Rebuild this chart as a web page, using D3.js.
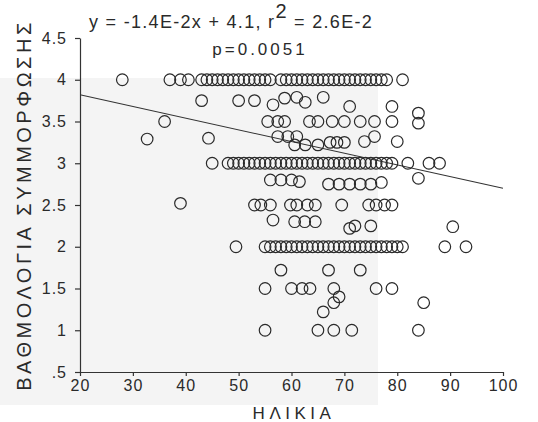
<!DOCTYPE html>
<html>
<head>
<meta charset="utf-8">
<script src="https://cdn.jsdelivr.net/npm/d3@7"></script>
<style>
  body { margin: 0; background: #fff; }
  text { font-family: "Liberation Sans", Arial, sans-serif; fill: #2a2a2a; }
</style>
</head>
<body>
<div id="chart"></div>
<script>
// ages of patients sitting on the three full rows
const agesAt4 = [28, 37, 39, 40.5, 43, 44, 45, 46, 47, 48, 49, 50, 51, 52, 53, 54, 55, 56,
  58, 59, 60, 61, 62, 63, 64, 65, 66, 67, 68, 69, 70, 71, 72, 73, 74, 75, 76, 77, 78, 81];
const agesAt3 = [45, 48, 49, 50, 51, 52, 53, 54, 55, 56, 57, 58, 59, 60, 61, 62, 63, 64, 65,
  66, 67, 68, 69, 70, 71, 72, 73, 74, 75, 76, 77, 78, 79, 82, 86, 88];
const agesAt2 = [49.5, 55, 56, 57, 58, 59, 60, 61, 62, 63, 64, 65, 66, 67, 68, 69, 70, 71,
  72, 73, 74, 75, 76, 77, 78, 79, 80, 81, 89, 93];

// the rest: [age, score]
const otherPoints = [
  [43, 3.75], [50, 3.75], [53, 3.75], [56.5, 3.7], [58.7, 3.78], [61, 3.79], [62.6, 3.73],
  [66, 3.79], [71, 3.68], [79, 3.68], [84, 3.6],
  [36, 3.5], [55.5, 3.5], [57.4, 3.5], [58.7, 3.5], [63.4, 3.5], [65, 3.5], [67.7, 3.5],
  [70, 3.5], [73, 3.5], [75.7, 3.5], [79, 3.5], [84, 3.48],
  [32.7, 3.29], [44.3, 3.3], [57.4, 3.32], [59.3, 3.32], [61, 3.32], [60.6, 3.22], [62.6, 3.22],
  [65, 3.22], [67.3, 3.25], [68.6, 3.25], [70, 3.25], [73.8, 3.26], [75.7, 3.32], [80, 3.26],
  [56, 2.8], [58, 2.8], [60, 2.8], [61.5, 2.78], [67, 2.75], [69, 2.75], [71, 2.75], [73, 2.75],
  [75, 2.75], [77, 2.77], [84, 2.82],
  [39, 2.52], [53, 2.5], [54.2, 2.5], [56, 2.5], [59.8, 2.5], [61, 2.5], [63, 2.5], [64.5, 2.5],
  [69.5, 2.5], [74.6, 2.5], [76, 2.5], [77.6, 2.5], [79, 2.5],
  [56.5, 2.32], [60.6, 2.3], [62.5, 2.3], [64.5, 2.3], [71, 2.22], [72, 2.25], [75, 2.25], [90.5, 2.24],
  [58, 1.72], [67, 1.72], [73, 1.72],
  [55, 1.5], [60, 1.5], [62, 1.5], [63.5, 1.5], [68, 1.5], [76, 1.5], [79, 1.5],
  [69, 1.4], [68, 1.33], [66, 1.22], [85, 1.33],
  [55, 1], [65, 1], [68, 1], [71.4, 1], [84, 1]
];

// fitted line y = slope * x + intercept
const slope = -0.014;
const intercept = 4.1;

const xTicks = [20, 30, 40, 50, 60, 70, 80, 90, 100];
const yTicks = [0.5, 1, 1.5, 2, 2.5, 3, 3.5, 4, 4.5];
const yTickLabels = ['.5', '1', '1.5', '2', '2.5', '3', '3.5', '4', '4.5'];

let points = [];
agesAt4.forEach(a => points.push([a, 4]));
agesAt3.forEach(a => points.push([a, 3]));
agesAt2.forEach(a => points.push([a, 2]));
points = points.concat(otherPoints);

const width = 538, height = 422;

const svg = d3.select('#chart').append('svg')
  .attr('width', width)
  .attr('height', height);

// faint grey patch left by the scan
svg.append('rect')
  .attr('x', 0).attr('y', 78)
  .attr('width', 378).attr('height', 327)
  .attr('fill', '#f4f4f4');

const x = d3.scaleLinear().domain([20, 100]).range([80, 503]);
const y = d3.scaleLinear().domain([0.5, 4.5]).range([372, 38]);

const xAxis = svg.append('g')
  .attr('transform', 'translate(0,372)')
  .call(d3.axisBottom(x).tickValues(xTicks).tickSize(4).tickPadding(4).tickSizeOuter(0));

const yAxis = svg.append('g')
  .attr('transform', 'translate(80,0)')
  .call(d3.axisLeft(y).tickValues(yTicks).tickSize(5).tickPadding(8).tickSizeOuter(0)
    .tickFormat((d, i) => yTickLabels[i]));

[xAxis, yAxis].forEach(g => {
  g.selectAll('path, line').attr('stroke', '#333').attr('stroke-width', 1.2);
  g.selectAll('text').style('font-size', '16px').style('letter-spacing', '1px').attr('fill', '#333');
});

svg.append('line')
  .attr('x1', x(20)).attr('y1', y(slope * 20 + intercept))
  .attr('x2', x(100)).attr('y2', y(slope * 100 + intercept))
  .attr('stroke', '#333')
  .attr('stroke-width', 1.1);

svg.append('g').selectAll('circle')
  .data(points)
  .enter().append('circle')
  .attr('cx', d => x(d[0]))
  .attr('cy', d => y(d[1]))
  .attr('r', 5.8)
  .attr('fill', 'none')
  .attr('stroke', '#2a2a2a')
  .attr('stroke-width', 1.2);

// equation and p value
const eq = svg.append('text')
  .attr('x', 89).attr('y', 28)
  .style('font-size', '18px')
  .style('letter-spacing', '1.3px');
eq.append('tspan').text('y = -1.4E-2x + 4.1, r');
eq.append('tspan').attr('dy', -10).style('font-size', '20px').text('2');
eq.append('tspan').attr('dy', 10).text(' = 2.6E-2');

svg.append('text')
  .attr('x', 260).attr('y', 55)
  .attr('text-anchor', 'middle')
  .style('font-size', '17px')
  .style('letter-spacing', '3px')
  .text('p=0.0051');

svg.append('text')
  .attr('x', 294).attr('y', 419)
  .attr('text-anchor', 'middle')
  .style('font-size', '17px')
  .style('letter-spacing', '4.5px')
  .text('ΗΛΙΚΙΑ');

svg.append('text')
  .attr('transform', 'translate(31,205) rotate(-90)')
  .attr('text-anchor', 'middle')
  .style('font-size', '20px')
  .style('letter-spacing', '3.5px')
  .text('ΒΑΘΜΟΛΟΓΙΑ ΣΥΜΜΟΡΦΩΣΗΣ');
</script>
</body>
</html>
